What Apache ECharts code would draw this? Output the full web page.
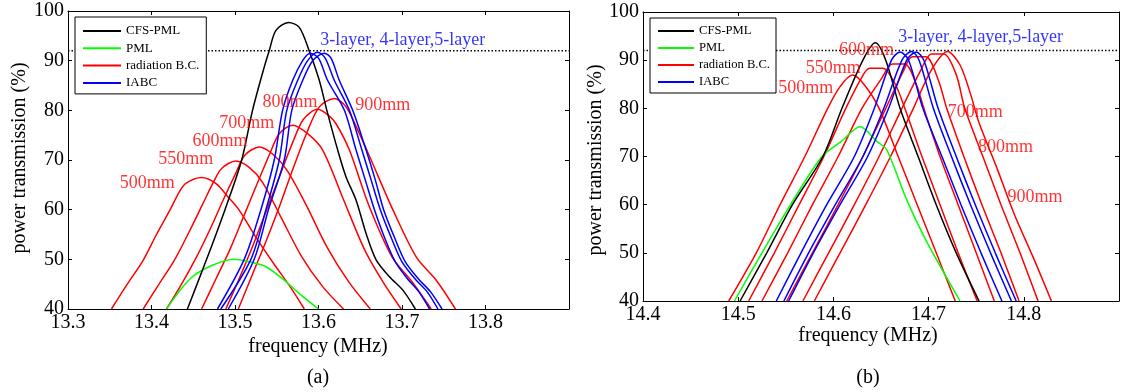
<!DOCTYPE html>
<html><head><meta charset="utf-8">
<script src="https://cdn.jsdelivr.net/npm/echarts@6/dist/echarts.min.js"></script>
<style>html,body{margin:0;padding:0;background:#fff}#c{width:1122px;height:392px}</style>
</head><body><div id="c"></div>
<script>
// ---------- data: panel (a) ----------
const aX = [13.3, 13.9], aTicks = ['13.3','13.4','13.5','13.6','13.7','13.8'];
const yRange = [40, 100];
const threshold = 92;
const aCFS = [[13.443,40],[13.466,50],[13.488,60],[13.508,70],[13.521,80],[13.535,88.7],[13.541,92],[13.549,96.1],[13.564,97.7],[13.577,96.7],[13.589,91.9],[13.601,86],[13.610,80],[13.623,72],[13.633,66.6],[13.645,61.9],[13.657,55.2],[13.669,49.9],[13.685,46.5],[13.701,43.8],[13.716,40]];
const aPML = [[13.418,40],[13.433,43.5],[13.449,46.5],[13.473,48.8],[13.499,50.0],[13.517,49.5],[13.537,48.5],[13.559,45.8],[13.577,43.1],[13.600,40]];
const aR500 = [[13.352,40],[13.371,45],[13.390,49.8],[13.406,55],[13.422,59.9],[13.433,63.5],[13.441,65.3],[13.460,66.5],[13.477,65.3],[13.492,62.5],[13.505,59.9],[13.527,53.9],[13.549,48.5],[13.566,44.5],[13.583,40]];
const aR550 = [[13.390,40],[13.409,45],[13.428,50],[13.445,55.5],[13.461,61],[13.474,65.5],[13.484,68.3],[13.501,69.8],[13.517,68.5],[13.533,65.5],[13.555,58.5],[13.580,50.5],[13.605,44.5],[13.630,40]];
const aR600 = [[13.418,40],[13.436,45],[13.454,50.5],[13.470,56],[13.486,62],[13.500,67],[13.512,71],[13.529,72.6],[13.545,71.2],[13.562,68],[13.585,61],[13.610,52.5],[13.636,45.5],[13.662,40]];
const aR700 = [[13.460,40],[13.477,46],[13.494,52],[13.510,58.5],[13.526,65],[13.541,71],[13.553,75.3],[13.569,77],[13.587,75.3],[13.605,72],[13.630,62],[13.655,52],[13.677,45.5],[13.699,40]];
const aR800 = [[13.489,40],[13.506,46.5],[13.522,53],[13.538,60],[13.554,67],[13.569,73.5],[13.582,78.2],[13.599,80.2],[13.612,79],[13.621,77.3],[13.637,72],[13.660,61],[13.688,50.5],[13.712,45.5],[13.735,40]];
const aR900 = [[13.504,40],[13.521,47],[13.538,54],[13.554,61],[13.570,68.5],[13.586,75.5],[13.601,80.7],[13.619,82.4],[13.633,80.7],[13.649,75.3],[13.663,70],[13.689,60],[13.717,50.5],[13.741,45.8],[13.764,40]];
const aB3 = [[13.479,40],[13.511,50],[13.531,60],[13.547,70],[13.557,80],[13.569,86],[13.581,90],[13.590,91.5],[13.600,90.5],[13.611,86],[13.631,80],[13.645,72],[13.656,66],[13.667,60],[13.680,54],[13.692,49.5],[13.707,46],[13.720,43.5],[13.733,40]];
const aB4 = [[13.483,40],[13.519,50],[13.537,60],[13.553,70],[13.562,80],[13.575,86],[13.587,90],[13.599,91.7],[13.608,90.5],[13.619,86],[13.637,80],[13.652,72],[13.663,66],[13.674,60],[13.688,54],[13.700,49.5],[13.716,46],[13.730,43.5],[13.743,40]];
const aB5 = [[13.492,40],[13.523,50],[13.540,60],[13.559,70],[13.568,80],[13.581,86],[13.593,90],[13.607,91.5],[13.615,90.5],[13.625,86],[13.641,80],[13.657,72],[13.668,66],[13.678,60],[13.692,54],[13.704,49.5],[13.720,46],[13.734,43.5],[13.748,40]];
const aNotes = [[13.362,65.3,'500mm','#ff0000'],[13.408,70.1,'550mm','#ff0000'],[13.449,73.8,'600mm','#ff0000'],[13.481,77.4,'700mm','#ff0000'],[13.533,81.6,'800mm','#ff0000'],[13.644,81.0,'900mm','#ff0000'],[13.602,94.1,'3-layer, 4-layer,5-layer','#0000ff']];

// ---------- data: panel (b) ----------
const bX = [14.4, 14.9], bTicks = ['14.4','14.5','14.6','14.7','14.8'];
const bCFS = [[14.502,40],[14.530,50],[14.557,60],[14.589,70],[14.609,80],[14.631,90],[14.644,93.6],[14.655,90],[14.670,80],[14.689,70],[14.708,60],[14.729,50],[14.753,40]];
const bPML = [[14.496,40],[14.525,50],[14.555,60],[14.588,70],[14.608,73.1],[14.628,76.2],[14.646,73.1],[14.656,71.4],[14.677,61],[14.697,52.7],[14.733,40]];
const bR500 = [[14.490,40],[14.519,50],[14.544,60],[14.570,70],[14.594,80],[14.607,84.5],[14.620,86.9],[14.632,85],[14.648,80],[14.668,70],[14.688,60],[14.708,50],[14.728,40]];
const bR550 = [[14.511,40],[14.538,50],[14.564,60],[14.590,70],[14.613,80],[14.630,86.5],[14.638,88.3],[14.652,88.3],[14.665,85],[14.675,80],[14.693,70],[14.712,60],[14.731,50],[14.751,40]];
const bR600 = [[14.525,40],[14.552,50],[14.578,60],[14.605,70],[14.630,80],[14.650,86],[14.662,89.2],[14.675,89.2],[14.687,85],[14.695,80],[14.712,70],[14.731,60],[14.750,50],[14.769,40]];
const bR700 = [[14.551,40],[14.578,50],[14.605,60],[14.631,70],[14.655,80],[14.673,87.5],[14.683,90.7],[14.697,90.7],[14.710,86],[14.719,80],[14.737,70],[14.756,60],[14.776,50],[14.795,40]];
const bR800 = [[14.568,40],[14.595,50],[14.622,60],[14.648,70],[14.672,80],[14.692,88],[14.703,91.3],[14.716,91.3],[14.729,87],[14.738,80],[14.757,70],[14.776,60],[14.796,50],[14.815,40]];
const bR900 = [[14.580,40],[14.607,50],[14.634,60],[14.660,70],[14.684,80],[14.703,88],[14.720,91.8],[14.733,89],[14.744,83],[14.753,77],[14.771,68],[14.790,58],[14.810,49],[14.829,40]];
const bB3 = [[14.540,40],[14.566,50],[14.593,60],[14.622,70],[14.643,80],[14.661,90],[14.670,91.7],[14.679,90],[14.694,80],[14.714,70],[14.734,60],[14.755,50],[14.777,40]];
const bB4 = [[14.548,40],[14.574,50],[14.602,60],[14.631,70],[14.653,80],[14.672,90],[14.682,91.8],[14.690,90],[14.705,80],[14.724,70],[14.744,60],[14.765,50],[14.787,40]];
const bB5 = [[14.553,40],[14.579,50],[14.607,60],[14.636,70],[14.658,80],[14.677,90],[14.687,91.7],[14.695,90],[14.710,80],[14.729,70],[14.749,60],[14.770,50],[14.792,40]];
const bNotes = [[14.542,84.2,'500mm','#ff0000'],[14.571,88.4,'550mm','#ff0000'],[14.606,92.1,'600mm','#ff0000'],[14.720,79.2,'700mm','#ff0000'],[14.752,72.0,'800mm','#ff0000'],[14.783,61.6,'900mm','#ff0000'],[14.668,94.8,'3-layer, 4-layer,5-layer','#0000ff']];

const legendNames = ['CFS-PML','PML','radiation B.C.','IABC'];
const xName = 'frequency (MHz)', yName = 'power transmission (%)';
const panelTitles = ['(a)', '(b)'];

// ---------- chart ----------
const FONT = 'Liberation Serif';
const COL = {'CFS-PML':'#000000','PML':'#00ff00','radiation B.C.':'#ff0000','IABC':'#0000ff'};
const chart = echarts.init(document.getElementById('c'), null, {renderer:'canvas'});

function lineSeries(name, data, gi) {
  return {type:'line', name, data, xAxisIndex: gi*2, yAxisIndex: gi*2, symbol:'none', showSymbol:false,
    smooth:0.3, animation:false, lineStyle:{color:COL[name], width:1.5}, itemStyle:{color:COL[name]}, z:3};
}
function noteSeries(notes, gi) {
  return {type:'scatter', xAxisIndex: gi*2, yAxisIndex: gi*2, symbolSize:0, animation:false, silent:true, z:5,
    data: notes.map(n => ({value:[n[0], n[1]], name:n[2],
      label:{show:true, position:'right', distance:0, formatter:n[2], color:n[3], fontFamily:FONT, fontSize:18}})),
    clip:false};
}
function thresholdSeries(range, gi) {
  return {type:'line', xAxisIndex: gi*2, yAxisIndex: gi*2, symbol:'none', animation:false, silent:true, z:2,
    data:[[range[0], threshold],[range[1], threshold]],
    lineStyle:{color:'#000', width:1.5, type:[1.5,2]}};
}

const grids = [
  {left:68, top:11, width:501, height:298},
  {left:643, top:12, width:482, height:289}
];
const xRanges = [aX, bX];
const xAxes = [], yAxes = [];
grids.forEach((g, gi) => {
  const r = xRanges[gi];
  const common = {type:'value', gridIndex:gi, min:r[0], max:r[1], interval:0.1,
    axisLine:{show:true, lineStyle:{color:'#000', width:1}}, splitLine:{show:false},
    axisTick:{show:true, inside:true, length:4, lineStyle:{color:'#000'}}};
  const labels = gi === 0 ? aTicks : bTicks;
  xAxes.push(Object.assign({}, common, {position:'bottom',
    axisLabel:{show:true, color:'#000', fontFamily:FONT, fontSize:20, margin:4,
      formatter: v => { const s = v.toFixed(1); return labels.includes(s) ? s : ''; }}}));
  xAxes.push(Object.assign({}, common, {position:'top', axisLabel:{show:false}}));
  const ycommon = {type:'value', gridIndex:gi, min:yRange[0], max:yRange[1], interval:10,
    axisLine:{show:true, lineStyle:{color:'#000', width:1}}, splitLine:{show:false},
    axisTick:{show:true, inside:true, length:4, lineStyle:{color:'#000'}}};
  yAxes.push(Object.assign({}, ycommon, {position:'left',
    axisLabel:{show:true, color:'#000', fontFamily:FONT, fontSize:20, margin:4}}));
  yAxes.push(Object.assign({}, ycommon, {position:'right', axisLabel:{show:false}}));
});

const series = [
  thresholdSeries(aX, 0),
  lineSeries('radiation B.C.', aR500, 0), lineSeries('radiation B.C.', aR550, 0), lineSeries('radiation B.C.', aR600, 0),
  lineSeries('radiation B.C.', aR700, 0), lineSeries('radiation B.C.', aR800, 0), lineSeries('radiation B.C.', aR900, 0),
  lineSeries('PML', aPML, 0), lineSeries('CFS-PML', aCFS, 0),
  lineSeries('IABC', aB3, 0), lineSeries('IABC', aB4, 0), lineSeries('IABC', aB5, 0),
  noteSeries(aNotes, 0),
  thresholdSeries(bX, 1),
  lineSeries('radiation B.C.', bR500, 1), lineSeries('radiation B.C.', bR550, 1), lineSeries('radiation B.C.', bR600, 1),
  lineSeries('radiation B.C.', bR700, 1), lineSeries('radiation B.C.', bR800, 1), lineSeries('radiation B.C.', bR900, 1),
  lineSeries('PML', bPML, 1), lineSeries('CFS-PML', bCFS, 1),
  lineSeries('IABC', bB3, 1), lineSeries('IABC', bB4, 1), lineSeries('IABC', bB5, 1),
  noteSeries(bNotes, 1)
];

function legendAt(left, top, pad, gap, w, fs) {
  return {data:legendNames, orient:'vertical', left, top, padding:pad, itemGap:gap, itemWidth:w, itemHeight:14,
    backgroundColor:'#fff', borderColor:'#000', borderWidth:1, borderRadius:0, selectedMode:false, z:10,
    icon:'path://M0,6 L38,6 L38,8 L0,8 Z',
    textStyle:{fontFamily:FONT, fontSize:fs, color:'#000', lineHeight:14}};
}

const tf = '20px "Liberation Serif"';
const texts = [
  {type:'text', x: 318, y: 347, style:{text:xName, font:tf, fill:'#000', align:'center', verticalAlign:'middle'}},
  {type:'text', x: 868, y: 336, style:{text:xName, font:tf, fill:'#000', align:'center', verticalAlign:'middle'}},
  {type:'text', x: 318, y: 378, style:{text:panelTitles[0], font:tf, fill:'#000', align:'center', verticalAlign:'middle'}},
  {type:'text', x: 868, y: 378, style:{text:panelTitles[1], font:tf, fill:'#000', align:'center', verticalAlign:'middle'}},
  {type:'text', x: 20, y: 158, rotation: Math.PI/2, style:{text:yName, font:tf, fill:'#000', align:'center', verticalAlign:'middle'}},
  {type:'text', x: 596, y: 160, rotation: Math.PI/2, style:{text:yName, font:tf, fill:'#000', align:'center', verticalAlign:'middle'}}
];

chart.setOption({
  animation:false,
  backgroundColor:'#fff',
  grid: grids,
  xAxis: xAxes,
  yAxis: yAxes,
  legend: [legendAt(75, 17, [7,7,4,8], 3.3, 38, 13), legendAt(650, 18, [6,6,4,8], 3, 36, 12.6)],
  series,
  graphic: texts
});
</script></body></html>
